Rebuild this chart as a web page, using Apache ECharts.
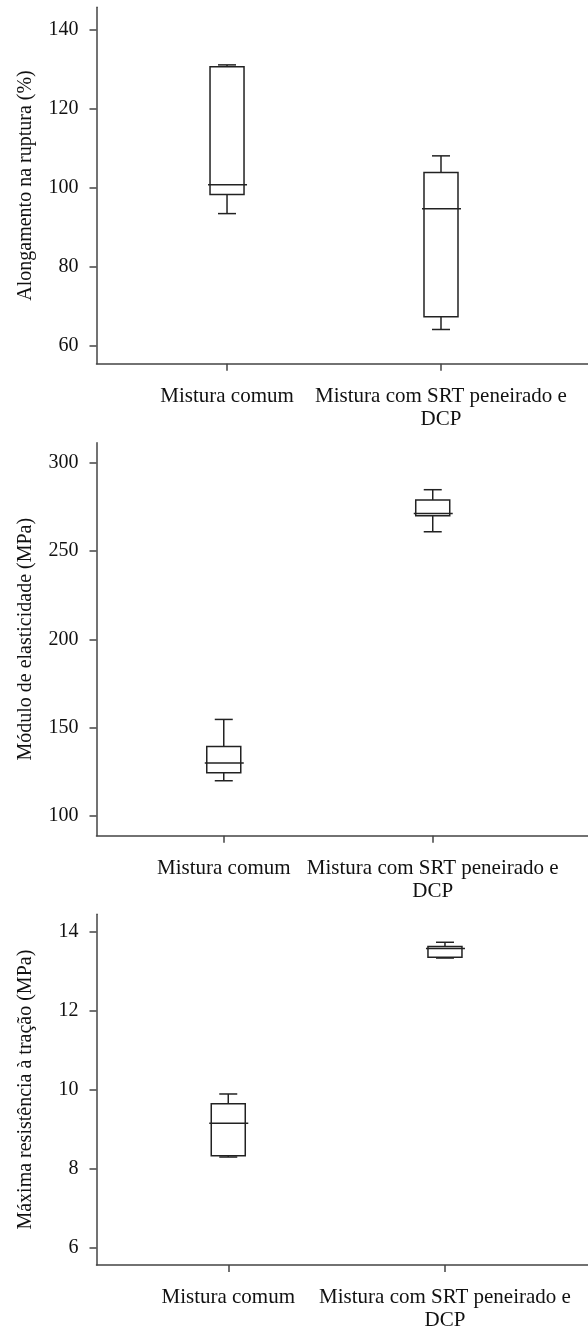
<!DOCTYPE html>
<html>
<head>
<meta charset="utf-8">
<script src="https://cdn.jsdelivr.net/npm/echarts@6/dist/echarts.min.js"></script>
<style>
  html, body { margin: 0; padding: 0; background: #fff; }
  #chart { width: 588px; height: 1332px; }
</style>
</head>
<body>
<div id="chart"></div>
<script>
var categories = ['Mistura comum', 'Mistura com SRT peneirado e\nDCP'];

// [min, Q1, mediana, Q3, max] for each mixture
var alongamento = [[93.4, 98.2, 100.7, 130.5, 131.0], [64.1, 67.3, 94.6, 103.8, 108.0]];
var modulo = [[120.0, 124.5, 130.0, 139.4, 154.7], [260.9, 270.0, 271.3, 278.9, 284.7]];
var resistencia = [[8.29, 8.32, 9.15, 9.64, 9.89], [13.34, 13.36, 13.58, 13.63, 13.74]];

var alongTicks = [60, 80, 100, 120, 140];
var moduloTicks = [100, 150, 200, 250, 300];
var resistTicks = [6, 8, 10, 12, 14];

var FONT = '"Liberation Serif", "DejaVu Serif", serif';
var AXIS_COLOR = '#444';
var BOX_COLOR = '#222';

var panels = [
  { name: 'Alongamento na ruptura (%)', values: alongamento, ticks: alongTicks,
    ymin: 55.45, ymax: 145.56, xmin: 0.390, xmax: 2.687, top: 7.3, bottom: 968.3 },
  { name: 'Módulo de elasticidade (MPa)', values: modulo, ticks: moduloTicks,
    ymin: 88.9, ymax: 311.3, xmin: 0.391, xmax: 2.743, top: 442.7, bottom: 496.3 },
  { name: 'Máxima resistência à tração (MPa)', values: resistencia, ticks: resistTicks,
    ymin: 5.55, ymax: 14.45, xmin: 0.392, xmax: 2.660, top: 914.3, bottom: 64.3 }
];

function renderBox(params, api) {
  var x = api.value(0);
  var lo = api.coord([x, api.value(1)]);
  var q1 = api.coord([x, api.value(2)]);
  var md = api.coord([x, api.value(3)]);
  var q3 = api.coord([x, api.value(4)]);
  var hi = api.coord([x, api.value(5)]);
  var cx = lo[0];
  var hw = 17, cw = 9;
  var st = { stroke: BOX_COLOR, lineWidth: 1.5, fill: null };
  return {
    type: 'group',
    children: [
      { type: 'line', shape: { x1: cx, y1: q3[1], x2: cx, y2: hi[1] }, style: st },
      { type: 'line', shape: { x1: cx - cw, y1: hi[1], x2: cx + cw, y2: hi[1] }, style: st },
      { type: 'line', shape: { x1: cx, y1: q1[1], x2: cx, y2: lo[1] }, style: st },
      { type: 'line', shape: { x1: cx - cw, y1: lo[1], x2: cx + cw, y2: lo[1] }, style: st },
      { type: 'rect', shape: { x: cx - hw, y: q3[1], width: hw * 2, height: q1[1] - q3[1] },
        style: { stroke: BOX_COLOR, lineWidth: 1.5, fill: 'none' } },
      { type: 'line', shape: { x1: cx - hw - 2, y1: md[1], x2: cx + hw + 3, y2: md[1] }, style: st }
    ]
  };
}

var grids = [], xAxes = [], yAxes = [], series = [];
panels.forEach(function (p, i) {
  grids.push({ left: 96.5, right: 0, top: p.top, bottom: p.bottom });
  xAxes.push({
    gridIndex: i, type: 'value', min: p.xmin, max: p.xmax,
    splitLine: { show: false },
    axisLine: { show: true, lineStyle: { color: AXIS_COLOR, width: 1.5 } },
    axisTick: { show: true, customValues: [1, 2], length: 7, lineStyle: { color: AXIS_COLOR, width: 1.5 } },
    axisLabel: {
      customValues: [1, 2], margin: 21,
      formatter: function (v) { return categories[Math.round(v) - 1]; },
      fontFamily: FONT, fontSize: 21, lineHeight: 23, color: '#111'
    }
  });
  yAxes.push({
    gridIndex: i, type: 'value', min: p.ymin, max: p.ymax,
    name: p.name, nameLocation: 'middle', nameGap: 61,
    nameTextStyle: { fontFamily: FONT, fontSize: 20, color: '#111' },
    splitLine: { show: false },
    axisLine: { show: true, lineStyle: { color: AXIS_COLOR, width: 1.5 } },
    axisTick: { show: true, customValues: p.ticks, length: 7, lineStyle: { color: AXIS_COLOR, width: 1.5 } },
    axisLabel: { customValues: p.ticks, margin: 18, fontFamily: FONT, fontSize: 20, color: '#111' }
  });
  series.push({
    type: 'custom', xAxisIndex: i, yAxisIndex: i,
    renderItem: renderBox,
    encode: { x: 0, y: [1, 2, 3, 4, 5] },
    data: p.values.map(function (v, k) { return [k + 1].concat(v); })
  });
});

var chart = echarts.init(document.getElementById('chart'));
chart.setOption({
  animation: false,
  backgroundColor: '#fff',
  grid: grids,
  xAxis: xAxes,
  yAxis: yAxes,
  series: series
});
</script>
</body>
</html>
